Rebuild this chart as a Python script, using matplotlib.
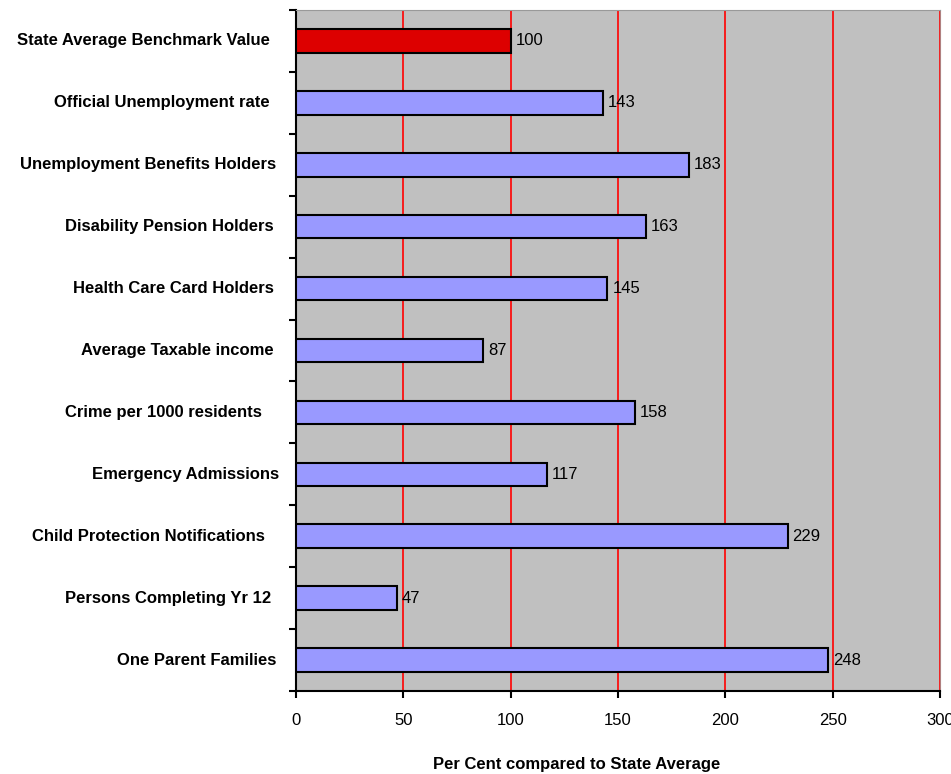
import matplotlib.pyplot as plt
import matplotlib.ticker as ticker

# ── Data ──────────────────────────────────────────────────────────────────────
categories = [
    "State Average Benchmark Value",
    "Official Unemployment rate",
    "Unemployment Benefits Holders",
    "Disability Pension Holders",
    "Health Care Card Holders",
    "Average Taxable income",
    "Crime per 1000 residents",
    "Emergency Admissions",
    "Child Protection Notifications",
    "Persons Completing Yr 12",
    "One Parent Families",
]
values = [100, 143, 183, 163, 145, 87, 158, 117, 229, 47, 248]
# small right-side offsets of each label (px) as seen in the original
label_gap = [26, 26, 20, 22, 22, 22, 34, 17, 31, 25, 20]

# ── Style ─────────────────────────────────────────────────────────────────────
plt.rcParams["font.family"] = ["Liberation Sans", "DejaVu Sans"]
BACKGROUND = "#C0C0C0"
BAR_COLOR = "#9999FF"
HIGHLIGHT = "#DD0000"
GRID_COLOR = "#FF0000"

fig = plt.figure(figsize=(9.51, 7.74), dpi=100)
ax = fig.add_axes([296 / 951, 1 - 691 / 774, 644 / 951, 681 / 774])
ax.set_facecolor(BACKGROUND)

ypos = list(range(len(categories)))
colors = [HIGHLIGHT] + [BAR_COLOR] * (len(categories) - 1)
ax.barh(ypos, values, height=0.38, color=colors, edgecolor="black",
        linewidth=1.5, zorder=3)

ax.set_xlim(0, 300)
ax.set_ylim(len(categories) - 0.5, -0.5)
ax.xaxis.set_major_locator(ticker.MultipleLocator(50))
ax.grid(axis="x", color=GRID_COLOR, linewidth=1.2, zorder=0)

# ticks on y sit between categories
ax.set_yticks([i - 0.5 for i in range(len(categories) + 1)])
ax.set_yticklabels([])
ax.tick_params(axis="y", length=5, width=1.5, direction="out")
ax.tick_params(axis="x", length=5, width=1.5, direction="out",
               labelsize=12, pad=11)

for i, (cat, gap) in enumerate(zip(categories, label_gap)):
    ax.annotate(cat, xy=(0, i), xycoords=("axes fraction", "data"),
                xytext=(-gap, 0), textcoords="offset pixels",
                ha="right", va="center", fontsize=12, fontweight="bold")

for i, v in enumerate(values):
    ax.annotate(f"{v}", xy=(v, i), xytext=(5, 0), textcoords="offset pixels",
                ha="left", va="center", fontsize=12)

ax.spines["left"].set_linewidth(1.5)
ax.spines["bottom"].set_linewidth(1.5)
ax.spines["top"].set_color("#999999")
ax.spines["right"].set_color("#B08080")

fig.text(577 / 951, 1 - 765 / 774, "Per Cent compared to State Average",
         ha="center", va="center", fontsize=12, fontweight="bold")

plt.savefig("out.png", dpi=100)
plt.close()
